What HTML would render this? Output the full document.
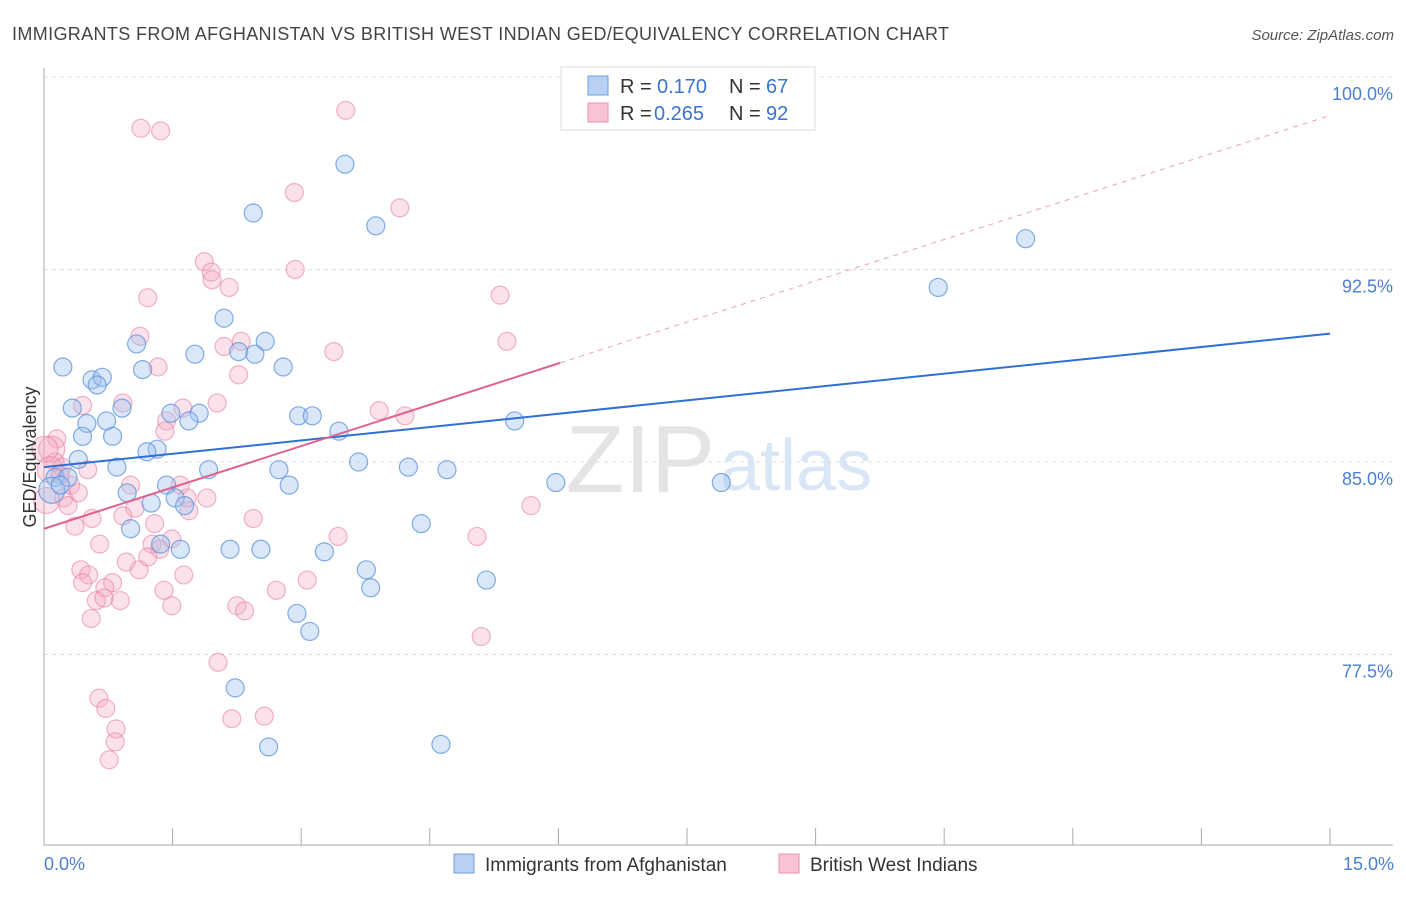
<!DOCTYPE html>
<html><head><meta charset="utf-8"><style>
body{margin:0;background:#fff;font-family:"Liberation Sans",sans-serif;}
svg text{font-family:"Liberation Sans",sans-serif;}
</style></head><body>
<svg id="chart" width="1406" height="892" xmlns="http://www.w3.org/2000/svg">
<text x="12" y="40" font-size="18" fill="#444" textLength="937">IMMIGRANTS FROM AFGHANISTAN VS BRITISH WEST INDIAN GED/EQUIVALENCY CORRELATION CHART</text>
<text x="1394" y="40" font-size="15" fill="#555" text-anchor="end" font-style="italic">Source: ZipAtlas.com</text>
<text x="715" y="492" font-size="96" fill="#e4e4e4" font-family="Liberation Serif" text-anchor="end">ZIP</text>
<text x="720" y="490" font-size="72" fill="#d8e6f6">atlas</text>
<g id="grid"></g>
<g id="axes"></g>
<g id="pts"></g>
<g id="lines"></g>
<text transform="translate(36,457) rotate(-90)" font-size="18" fill="#333" text-anchor="middle">GED/Equivalency</text>
<text x="44" y="870" font-size="18" fill="#4a7fd4">0.0%</text>
<text x="1394" y="870" font-size="18" fill="#4a7fd4" text-anchor="end">15.0%</text>
<g>
<rect x="561" y="67" width="254" height="63" fill="#fff" stroke="#ddd"/>
<rect x="588" y="76" width="20" height="19" fill="#b8d0f4" stroke="#6a9fe0"/>
<rect x="588" y="103" width="20" height="19" fill="#f8c4d4" stroke="#e890b0"/>
<text x="620" y="93" font-size="20" fill="#333">R =</text>
<text x="657" y="93" font-size="20" fill="#3a74d0">0.170</text>
<text x="729" y="93" font-size="20" fill="#333">N =</text>
<text x="766" y="93" font-size="20" fill="#3a74d0">67</text>
<text x="620" y="120" font-size="20" fill="#333">R =</text>
<text x="654" y="120" font-size="20" fill="#3a74d0">0.265</text>
<text x="729" y="120" font-size="20" fill="#333">N =</text>
<text x="766" y="120" font-size="20" fill="#3a74d0">92</text>
</g>
<g>
<rect x="454" y="854" width="20" height="19" fill="#b8d0f4" stroke="#6a9fe0"/>
<text x="485" y="871" font-size="19" fill="#333">Immigrants from Afghanistan</text>
<rect x="779" y="854" width="20" height="19" fill="#f8c4d4" stroke="#e890b0"/>
<text x="810" y="871" font-size="19" fill="#333">British West Indians</text>
</g>
</svg>
<script>
const yTicks=[77.5,85.0,92.5,100.0];
const blueX=[6.88,3.51,2.44,3.87,11.45,10.43,2.10,2.58,1.08,1.76,2.27,2.46,0.22,2.79,1.15,0.56,0.68,0.62,0.33,0.91,1.48,1.81,2.97,3.13,0.50,0.73,1.69,0.45,0.80,3.44,5.49,1.32,1.20,0.40,0.85,3.67,1.92,2.74,4.25,4.70,0.13,0.28,2.86,1.43,5.97,7.90,0.97,1.53,1.25,1.64,4.40,1.01,1.36,1.59,2.17,2.53,3.27,3.76,5.16,3.81,2.95,3.10,2.23,2.62,4.63,0.09,0.19];
const blueY=[99.9,96.6,94.7,94.2,93.7,91.8,90.6,89.7,89.6,89.2,89.3,89.2,88.7,88.7,88.6,88.2,88.3,88.0,87.1,87.1,86.9,86.9,86.8,86.8,86.5,86.6,86.6,86.0,86.0,86.2,86.6,85.5,85.4,85.1,84.8,85.0,84.7,84.7,84.8,84.7,84.4,84.4,84.1,84.1,84.2,84.2,83.8,83.6,83.4,83.3,82.6,82.4,81.8,81.6,81.6,81.6,81.5,80.8,80.4,80.1,79.1,78.4,76.2,73.9,74.0,83.9,84.1];
const pinkX=[3.52,1.13,1.36,2.92,4.15,1.87,2.93,1.95,1.96,2.16,5.32,1.21,1.12,5.40,2.30,2.10,3.38,1.33,2.27,0.45,0.92,2.02,1.62,3.91,4.21,1.43,1.41,0.15,0.09,0.21,0.51,0.13,0.31,1.01,1.59,0.23,0.40,1.90,1.67,0.28,0.56,1.06,0.92,1.69,2.44,5.68,1.29,0.36,3.43,5.05,0.65,1.26,1.35,1.21,1.49,0.96,1.11,0.43,0.52,1.63,0.45,0.80,3.07,2.71,0.71,1.40,0.61,0.89,0.70,2.25,2.34,1.49,0.55,5.10,2.03,0.64,0.72,2.19,2.57,0.84,0.83,0.76,0.03,0.01,0.07,0.19];
const pinkY=[98.7,98.0,97.9,95.5,94.9,92.8,92.5,92.4,92.1,91.8,91.5,91.4,89.9,89.7,89.7,89.5,89.3,88.7,88.4,87.2,87.3,87.3,87.1,87.0,86.8,86.6,86.2,85.9,85.5,84.8,84.7,85.0,84.1,84.1,84.1,83.6,83.8,83.6,83.6,83.3,82.8,83.2,82.9,83.1,82.8,83.3,82.6,82.5,82.1,82.1,81.8,81.8,81.6,81.3,82.0,81.1,80.8,80.8,80.6,80.6,80.3,80.3,80.4,80.0,80.1,80.0,79.6,79.6,79.7,79.4,79.2,79.4,78.9,78.2,77.2,75.8,75.4,75.0,75.1,74.6,74.1,73.4,83.5,85.5,84.7,84.5];
const blueTrend=[84.8,90.0];
const pinkTrend=[82.4,98.5];
const X=v=>44+v/15*1286;
const Y=v=>462-(v-85)*25.67;
const NS="http://www.w3.org/2000/svg";
function mk(t,a,p){const e=document.createElementNS(NS,t);for(const k in a)e.setAttribute(k,a[k]);p.appendChild(e);return e;}
const grid=document.getElementById('grid'),axes=document.getElementById('axes'),pts=document.getElementById('pts'),lines=document.getElementById('lines');
yTicks.forEach(t=>{
 const g=mk('line',{x1:44,x2:1393,y1:Y(t),y2:Y(t),stroke:'#ddd','stroke-dasharray':'4,4'},grid);
 
 
 const l=mk('text',{x:1393,y:Y(t)+23,'font-size':18,fill:'#4a7fd4','text-anchor':'end'},grid);
 l.textContent=t.toFixed(1)+'%';
 
 
});
const ax=mk('line',{x1:44,x2:1393,y1:845,y2:845,stroke:'#aaa'},axes);


const ay=mk('line',{x1:44,x2:44,y1:68,y2:845,stroke:'#aaa'},axes);


for(let i=0;i<=10;i++){
 const tk=mk('line',{x1:X(i*1.5),x2:X(i*1.5),y1:828,y2:845,stroke:'#aaa'},axes);
 
 
}
pinkX.forEach((v,i)=>{
 const big=v<0.1;
 const c=mk('circle',{cx:X(v),cy:Y(pinkY[i]),r:big?13:9,fill:'rgba(244,170,195,0.35)',stroke:'rgba(232,130,165,0.6)','stroke-width':1.2},pts);
 
 
});
blueX.forEach((v,i)=>{
 const big=v<0.1;
 const c=mk('circle',{cx:X(v),cy:Y(blueY[i]),r:big?13:9,fill:'rgba(160,195,240,0.4)',stroke:'rgba(90,145,220,0.75)','stroke-width':1.2},pts);
 
 
});
const bl=mk('line',{x1:X(0),y1:Y(blueTrend[0]),x2:X(15),y2:Y(blueTrend[1]),stroke:'#2f6fd6','stroke-width':2},lines);


const pe=pinkTrend[0]+(pinkTrend[1]-pinkTrend[0])*6.02/15;
const pl=mk('line',{x1:X(0),y1:Y(pinkTrend[0]),x2:X(6.02),y2:Y(pe),stroke:'#e0608e','stroke-width':2},lines);


const pd=mk('line',{x1:X(6.02),y1:Y(pe),x2:X(15),y2:Y(pinkTrend[1]),stroke:'#eaa0ba','stroke-width':1,'stroke-dasharray':'5,5'},lines);


</script>
</body></html>
